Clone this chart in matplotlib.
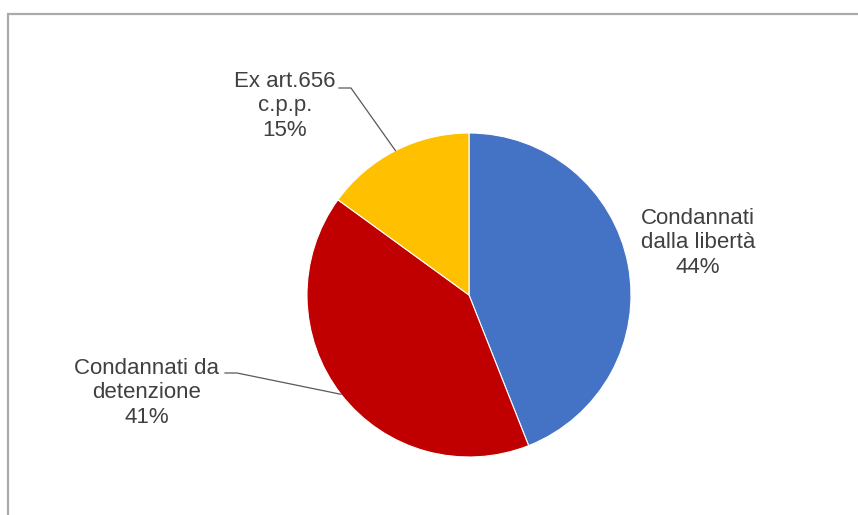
import numpy as np
import matplotlib
matplotlib.use("Agg")
import matplotlib.pyplot as plt
from matplotlib.patches import Rectangle

labels = ["Condannati\ndalla libertà", "Condannati da\ndetenzione", "Ex art.656\nc.p.p."]
values = [44, 41, 15]
colors = ["#4472C4", "#C00000", "#FFC000"]

W, H = 858, 515
plt.rcParams['font.family'] = ['Liberation Sans', 'DejaVu Sans']

fig = plt.figure(figsize=(W / 100, H / 100), dpi=100)
ax = fig.add_axes([0, 0, 1, 1])

# chart frame
ax.add_patch(Rectangle((8, -5), W, H - 14 + 5, fill=False, edgecolor="#ababab", lw=1.6))

cx, cy, r = 469, H - 295, 162
wedges, _ = ax.pie(values, colors=colors, startangle=90, counterclock=False,
                   center=(cx, cy), radius=r, frame=True,
                   wedgeprops=dict(edgecolor="white", linewidth=0.8))
ax.set_xlim(0, W)
ax.set_ylim(0, H)
ax.set_aspect('equal')
ax.axis('off')

# label centre positions (pixel coords from top) and leader elbows
text_pos = [(698, 243), (147, 393), (285, 106)]
elbows = [None, [(225, 373), (237, 373)], [(339, 88), (351, 88)]]

for w, lab, v, (tx, ty), el in zip(wedges, labels, values, text_pos, elbows):
    ax.text(tx, H - ty, f"{lab}\n{v}%", ha='center', va='center',
            fontsize=16, color="#404040", linespacing=1.2)
    if el is not None:
        mid = np.deg2rad((w.theta1 + w.theta2) / 2)
        px, py = cx + r * np.cos(mid), cy + r * np.sin(mid)
        xs = [el[0][0], el[1][0], px]
        ys = [H - el[0][1], H - el[1][1], py]
        ax.plot(xs, ys, color="#595959", lw=0.9)

fig.savefig("out.png", dpi=100)
